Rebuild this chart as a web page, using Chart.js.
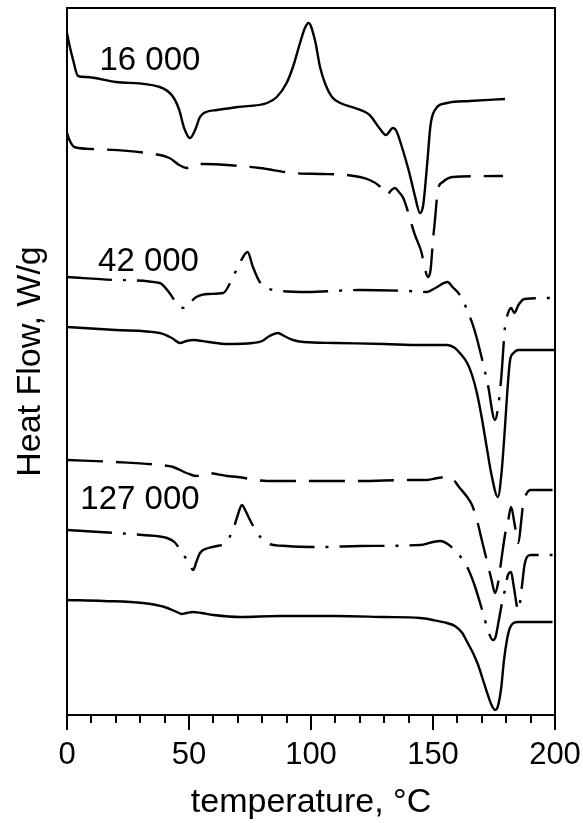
<!DOCTYPE html>
<html>
<head>
<meta charset="utf-8">
<script src="https://cdn.jsdelivr.net/npm/chart.js@4.4.1/dist/chart.umd.min.js"></script>
<style>
  html, body { margin: 0; padding: 0; background: #fff; }
</style>
</head>
<body>
<canvas id="dsc" width="583" height="823"></canvas>
<script>
// DSC traces, stacked with an offset (arbitrary heat flow units)
// Mw 16 000
const tA = [0, 1, 2.5, 4.5, 8, 20, 38, 43.5, 46, 48, 50.4, 52.5, 54.5, 57, 61.5, 70, 82, 86, 90, 92.6, 95.5, 97.5, 99, 101.6, 103.7, 106, 108.6, 112, 118, 124, 128, 130.7, 133.6, 135, 137, 140, 142.5, 144.7, 146, 147.5, 149, 150.8, 155.7, 165, 179.5];
const hfA = [68.2, 67.0, 65.5, 63.9, 63.8, 63.3, 62.8, 61.8, 60.5, 58.7, 57.7, 58.5, 59.8, 60.3, 60.5, 60.8, 61.2, 61.8, 63.2, 64.8, 67.2, 68.7, 69.2, 67.5, 64.8, 63.0, 61.8, 61.2, 60.7, 60.0, 58.7, 58.0, 58.7, 58.4, 57.0, 54.5, 52.0, 50.2, 51.0, 54.8, 59.0, 60.5, 61.2, 61.4, 61.6];

const tB = [0, 1, 3, 10, 32.7, 42, 46, 49, 51.7, 56, 65.6, 79, 92.6, 104, 114.6, 124, 128, 131, 133, 134.4, 136, 137.8, 142.6, 145, 148, 149, 150, 150.8, 152, 154, 158, 178.7];
const hfB = [58.2, 57.5, 56.8, 56.6, 56.2, 55.7, 55.0, 54.7, 55.0, 55.1, 55.0, 54.7, 54.2, 54.1, 54.0, 53.5, 52.9, 52.0, 52.5, 52.7, 52.3, 51.7, 48.0, 46.5, 43.8, 44.5, 47.5, 49.5, 52.5, 53.3, 53.8, 53.9];

// Mw 42 000
const tC = [0, 20.5, 38, 42, 45.5, 48.4, 50, 53, 58, 64, 68, 71, 74, 76.2, 79, 84.5, 98.5, 120, 140, 147.5, 151, 156, 158, 161, 164, 167, 170, 172.5, 175.4, 176.5, 178, 179.5, 180.5, 182, 183.4, 185, 187.5, 199];
const hfC = [43.8, 43.5, 43.2, 42.2, 41.0, 40.7, 41.1, 41.8, 42.1, 42.2, 43.8, 45.3, 46.3, 44.8, 43.3, 42.5, 42.3, 42.5, 42.4, 42.3, 42.7, 43.3, 42.8, 42.0, 40.5, 38.5, 35.7, 33.0, 29.5, 30.5, 33.8, 38.8, 40.0, 40.7, 40.2, 41.0, 41.6, 41.7];

const tD = [0, 20, 38, 43, 46.3, 49, 51.7, 58, 65.6, 76, 80, 83, 86.5, 89, 92.6, 97, 110, 130, 145, 155.7, 159, 161, 164, 166, 168, 170, 172, 174, 176.6, 178, 179.5, 180.5, 181.6, 183, 185, 200];
const hfD = [38.8, 38.5, 38.2, 37.7, 37.2, 37.4, 37.5, 37.3, 37.1, 37.2, 37.4, 37.9, 38.2, 37.9, 37.5, 37.3, 37.2, 37.1, 37.0, 37.0, 36.7, 36.2, 35.2, 34.0, 32.2, 29.7, 26.8, 24.0, 21.8, 24.0, 28.8, 32.5, 35.5, 36.2, 36.5, 36.5];

const tE = [0, 20, 38, 43.5, 49, 53, 57.4, 65.6, 70, 82, 103.7, 120, 140, 147.5, 152, 155.7, 158, 161, 164, 166, 168, 170, 172, 174, 175.4, 176.5, 178, 179.5, 180.7, 182, 183.5, 185, 186.2, 187, 188.5, 190, 199];
const hfE = [25.5, 25.3, 25.0, 24.8, 24.2, 23.9, 24.2, 23.9, 23.8, 23.4, 23.4, 23.4, 23.5, 23.5, 23.7, 23.8, 23.6, 22.7, 21.8, 21.0, 19.5, 17.5, 15.5, 13.5, 12.2, 13.0, 15.5, 18.0, 19.3, 20.8, 19.0, 17.2, 19.5, 21.2, 22.2, 22.5, 22.5];

// Mw 127 000
const tF = [0, 20, 31, 41, 44, 47, 50, 51.7, 53, 54.5, 58, 61.5, 65, 68, 70, 71.7, 73, 75, 78, 82, 90, 103.7, 120, 144.7, 150, 153, 156, 160, 164, 167, 170.5, 172.5, 174.5, 175.5, 177, 178.5, 179.5, 180.7, 182, 183, 185, 186.5, 187.5, 188.5, 190, 199];
const hfF = [18.5, 18.2, 18.0, 17.7, 17.3, 16.3, 15.2, 14.5, 15.3, 16.2, 16.7, 16.9, 17.2, 18.5, 20.0, 21.0, 20.5, 19.5, 18.2, 17.2, 16.9, 16.8, 16.9, 17.0, 17.3, 17.4, 17.1, 16.2, 14.8, 13.0, 10.2, 8.5, 7.5, 7.7, 9.5, 11.5, 12.5, 14.0, 14.3, 13.0, 10.5, 13.0, 15.0, 15.8, 16.0, 16.0];

const tG = [0, 15, 31, 40, 45, 47, 49, 51.7, 55, 60, 71, 87, 110, 130, 144.7, 150, 155.7, 159, 162, 164, 166.4, 168.5, 170.5, 172.5, 174, 175.4, 176.5, 178, 179, 180.3, 181.5, 183, 185, 199];
const hfG = [11.5, 11.4, 11.2, 10.8, 10.3, 10.1, 10.2, 10.3, 10.2, 10.0, 9.8, 9.9, 9.9, 9.8, 9.7, 9.5, 9.2, 8.9, 8.2, 7.3, 6.2, 5.0, 3.5, 2.0, 1.0, 0.5, 0.8, 2.8, 5.3, 7.5, 8.7, 9.2, 9.3, 9.3];

const xTicks = [0, 50, 100, 150, 200];
const groupNames = ['16 000', '42 000', '127 000'];
const groupAtT = [34, 33.4, 29.9];
const groupAtHF = [65.4, 45.3, 21.5];

const SOLID = [];
const DASH = [36, 13];
const DASHDOT = [45, 11, 3, 11];

function trace(t, hf, dash) {
  return {
    data: t.map((v, i) => ({ x: v, y: hf[i] })),
    borderColor: '#000',
    borderWidth: 2.4,
    borderDash: dash,
    pointRadius: 0,
    fill: false,
    cubicInterpolationMode: 'monotone'
  };
}

const font = '"Liberation Sans", Arial, Helvetica, sans-serif';

// box round the plot, outward ticks and the molecular weight labels
const framePlugin = {
  id: 'frame',
  afterDraw(chart) {
    const { ctx, chartArea: a, scales: { x, y } } = chart;
    ctx.save();
    ctx.strokeStyle = '#000';
    ctx.lineWidth = 2;
    ctx.strokeRect(a.left, a.top, a.right - a.left, a.bottom - a.top);
    for (let t = 0; t <= 200; t += 10) {
      const px = Math.round(x.getPixelForValue(t));
      ctx.beginPath();
      ctx.moveTo(px, a.bottom);
      ctx.lineTo(px, a.bottom + (t % 50 === 0 ? 15 : 8));
      ctx.stroke();
    }
    ctx.fillStyle = '#000';
    ctx.font = '33px ' + font;
    ctx.textAlign = 'center';
    ctx.textBaseline = 'middle';
    groupNames.forEach((s, i) => {
      ctx.fillText(s, x.getPixelForValue(groupAtT[i]), y.getPixelForValue(groupAtHF[i]));
    });
    ctx.restore();
  }
};

new Chart(document.getElementById('dsc'), {
  type: 'line',
  data: {
    datasets: [
      trace(tA, hfA, SOLID),
      trace(tB, hfB, DASH),
      trace(tC, hfC, DASHDOT),
      trace(tD, hfD, SOLID),
      trace(tE, hfE, DASH),
      trace(tF, hfF, DASHDOT),
      trace(tG, hfG, SOLID)
    ]
  },
  options: {
    responsive: false,
    animation: false,
    layout: { padding: { top: 8, right: 28, left: 0, bottom: 0 } },
    plugins: { legend: { display: false }, tooltip: { enabled: false } },
    scales: {
      x: {
        type: 'linear',
        min: 0,
        max: 200,
        afterFit(scale) {
          scale.height = 108;
          scale.paddingLeft = 0;
          scale.paddingRight = 0;
        },
        afterBuildTicks(scale) { scale.ticks = xTicks.map(v => ({ value: v })); },
        grid: { display: false, drawTicks: false },
        border: { display: false },
        ticks: { color: '#000', padding: 22, maxRotation: 0, autoSkip: false, font: { family: font, size: 31 } },
        title: { display: true, text: 'temperature, °C', color: '#000', padding: { top: 3, bottom: 0 }, font: { family: font, size: 34 } }
      },
      y: {
        min: 0,
        max: 70.7,
        afterFit(scale) { scale.width = 67; },
        grid: { display: false, drawTicks: false },
        border: { display: false },
        ticks: { display: false },
        title: { display: true, text: 'Heat Flow, W/g', color: '#000', padding: { top: 10, bottom: 0 }, font: { family: font, size: 34 } }
      }
    }
  },
  plugins: [framePlugin]
});
</script>
</body>
</html>
